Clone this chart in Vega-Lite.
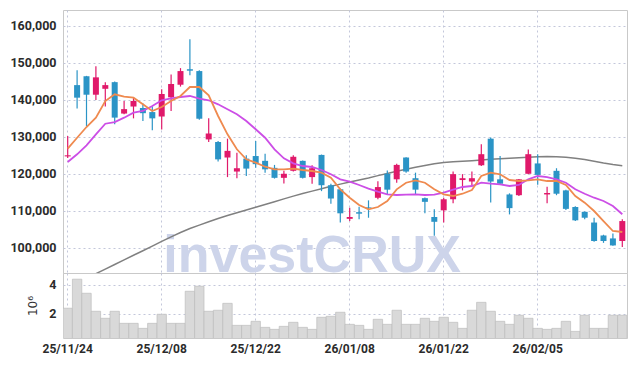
{
"$schema":"https://vega.github.io/schema/vega-lite/v6.json",
"padding":{"left":7,"top":9,"right":9,"bottom":5},
"spacing":0,
"bounds":"flush",
"config":{
 "view":{"stroke":"#c9c9c9","strokeWidth":1},
 "axis":{"domain":false,"ticks":false,"gridColor":"#c3c7da","gridDash":[2,3],"gridWidth":1,"labelFont":"Roboto","labelFontSize":12.5,"labelFontWeight":"bold","labelColor":"#2b2b2b","titleFont":"DejaVu Sans","titleFontWeight":"normal","titleColor":"#333333"}
},
"datasets":{"p":[
{"d":"25/11/24","o":124700,"h":130200,"l":124300,"c":125000,"v":2380000,"m5":126790,"m10":123180,"m60":89200},
{"d":"25/11/25","o":144000,"h":148000,"l":137700,"c":140600,"v":4400000,"m5":129760,"m10":125270,"m60":90450},
{"d":"25/11/26","o":146400,"h":146500,"l":132900,"c":141400,"v":3420000,"m5":132660,"m10":127710,"m60":91700},
{"d":"25/11/27","o":141400,"h":149100,"l":140000,"c":146100,"v":2170000,"m5":135180,"m10":130680,"m60":92950},
{"d":"25/11/28","o":143000,"h":144800,"l":138200,"c":144000,"v":1680000,"m5":139700,"m10":133550,"m60":94200},
{"d":"25/12/01","o":144800,"h":145000,"l":133400,"c":135200,"v":2170000,"m5":141510,"m10":134010,"m60":95450},
{"d":"25/12/02","o":136300,"h":139700,"l":136100,"c":137500,"v":1330000,"m5":140860,"m10":135180,"m60":96700},
{"d":"25/12/03","o":138200,"h":140600,"l":135000,"c":139700,"v":1330000,"m5":140590,"m10":136530,"m60":97950},
{"d":"25/12/04","o":137800,"h":139000,"l":134300,"c":136400,"v":980000,"m5":138800,"m10":136990,"m60":99150},
{"d":"25/12/05","o":136700,"h":138300,"l":131800,"c":135000,"v":1330000,"m5":136990,"m10":138340,"m60":100400},
{"d":"25/12/08","o":135500,"h":142900,"l":132000,"c":141600,"v":1960000,"m5":138070,"m10":139890,"m60":101700},
{"d":"25/12/09","o":140700,"h":146900,"l":137000,"c":144300,"v":1330000,"m5":139700,"m10":140430,"m60":102900},
{"d":"25/12/10","o":144100,"h":148600,"l":143600,"c":147800,"v":1330000,"m5":141050,"m10":140780,"m60":104100},
{"d":"25/12/11","o":148300,"h":156400,"l":146700,"c":147900,"v":3560000,"m5":143490,"m10":141050,"m60":105200},
{"d":"25/12/12","o":147800,"h":148000,"l":134600,"c":134900,"v":3910000,"m5":143490,"m10":140320,"m60":106100},
{"d":"25/12/15","o":129300,"h":135000,"l":128600,"c":130900,"v":2170000,"m5":141240,"m10":139890,"m60":107000},
{"d":"25/12/16","o":128600,"h":128900,"l":123300,"c":123900,"v":2240000,"m5":135640,"m10":138800,"m60":107900},
{"d":"25/12/17","o":124400,"h":129500,"l":119100,"c":126200,"v":2720000,"m5":130680,"m10":137450,"m60":108700},
{"d":"25/12/18","o":120600,"h":125700,"l":118800,"c":121500,"v":1190000,"m5":126620,"m10":136100,"m60":109450},
{"d":"25/12/19","o":124100,"h":125000,"l":119400,"c":121400,"v":1190000,"m5":123920,"m10":134280,"m60":110200},
{"d":"25/12/22","o":124800,"h":128900,"l":121600,"c":122600,"v":1470000,"m5":123000,"m10":132040,"m60":110950},
{"d":"25/12/23","o":123500,"h":125400,"l":120300,"c":121200,"v":1050000,"m5":121910,"m10":129760,"m60":111700},
{"d":"25/12/24","o":121600,"h":122400,"l":118700,"c":118900,"v":910000,"m5":121210,"m10":126620,"m60":112450},
{"d":"25/12/26","o":118900,"h":120800,"l":117400,"c":120000,"v":1120000,"m5":121210,"m10":124190,"m60":113200},
{"d":"25/12/29","o":120800,"h":125000,"l":120600,"c":124600,"v":1400000,"m5":121370,"m10":122830,"m60":113950},
{"d":"25/12/30","o":123500,"h":123600,"l":118700,"c":118900,"v":1050000,"m5":121020,"m10":122100,"m60":114650},
{"d":"26/01/02","o":119100,"h":122300,"l":117300,"c":121500,"v":910000,"m5":120750,"m10":121830,"m60":115300},
{"d":"26/01/05","o":125100,"h":125200,"l":115300,"c":116900,"v":1750000,"m5":120290,"m10":121020,"m60":115950},
{"d":"26/01/06","o":116900,"h":117300,"l":111900,"c":113300,"v":1820000,"m5":118930,"m10":119860,"m60":116600},
{"d":"26/01/07","o":115800,"h":116000,"l":106800,"c":109300,"v":2100000,"m5":115790,"m10":118500,"m60":117200},
{"d":"26/01/08","o":107800,"h":110800,"l":107200,"c":108300,"v":1260000,"m5":113520,"m10":117850,"m60":117750},
{"d":"26/01/09","o":109600,"h":111100,"l":107700,"c":109200,"v":1190000,"m5":111540,"m10":116960,"m60":118300},
{"d":"26/01/12","o":110900,"h":112800,"l":108100,"c":110700,"v":910000,"m5":110380,"m10":115960,"m60":118850},
{"d":"26/01/13","o":113500,"h":118000,"l":113100,"c":116400,"v":1610000,"m5":111000,"m10":115150,"m60":119500},
{"d":"26/01/14","o":120000,"h":120900,"l":114400,"c":115700,"v":1260000,"m5":112630,"m10":114440,"m60":120100},
{"d":"26/01/15","o":118500,"h":122700,"l":117600,"c":122400,"v":2240000,"m5":115790,"m10":114250,"m60":120700},
{"d":"26/01/16","o":124400,"h":124500,"l":120300,"c":120600,"v":1260000,"m5":117580,"m10":114330,"m60":121200},
{"d":"26/01/19","o":118800,"h":120300,"l":114400,"c":115700,"v":1260000,"m5":118230,"m10":114440,"m60":121750},
{"d":"26/01/20","o":113400,"h":113600,"l":109300,"c":112400,"v":1680000,"m5":117580,"m10":114250,"m60":122250},
{"d":"26/01/21","o":108300,"h":110400,"l":103200,"c":107000,"v":1470000,"m5":115790,"m10":114330,"m60":122700},
{"d":"26/01/22","o":110100,"h":113500,"l":106800,"c":113100,"v":1750000,"m5":114440,"m10":114870,"m60":123050},
{"d":"26/01/23","o":113100,"h":120600,"l":112000,"c":119900,"v":1400000,"m5":113980,"m10":115690,"m60":123250},
{"d":"26/01/26","o":118300,"h":119900,"l":115500,"c":118800,"v":980000,"m5":114600,"m10":116420,"m60":123400},
{"d":"26/01/27","o":117900,"h":120600,"l":116900,"c":118800,"v":2240000,"m5":115610,"m10":116690,"m60":123550},
{"d":"26/01/28","o":122300,"h":128000,"l":122100,"c":125300,"v":2790000,"m5":119400,"m10":117580,"m60":123750},
{"d":"26/01/29","o":129500,"h":129800,"l":112200,"c":117900,"v":2170000,"m5":120290,"m10":117310,"m60":123900},
{"d":"26/01/30","o":118500,"h":124800,"l":117200,"c":117300,"v":1470000,"m5":119860,"m10":117150,"m60":124050},
{"d":"26/02/02","o":114400,"h":114700,"l":109000,"c":110700,"v":1260000,"m5":118310,"m10":116690,"m60":124200},
{"d":"26/02/03","o":114200,"h":118600,"l":114000,"c":118500,"v":1890000,"m5":118040,"m10":116960,"m60":124350},
{"d":"26/02/04","o":120000,"h":126600,"l":119900,"c":125300,"v":1680000,"m5":118230,"m10":118500,"m60":124500},
{"d":"26/02/05","o":122800,"h":125300,"l":117000,"c":119700,"v":980000,"m5":118500,"m10":119400,"m60":124600},
{"d":"26/02/06","o":114400,"h":116500,"l":112000,"c":114800,"v":910000,"m5":118040,"m10":119120,"m60":124650},
{"d":"26/02/09","o":120800,"h":121500,"l":114200,"c":114600,"v":980000,"m5":118040,"m10":118500,"m60":124600},
{"d":"26/02/10","o":115500,"h":115700,"l":110200,"c":110500,"v":1470000,"m5":116960,"m10":117580,"m60":124450},
{"d":"26/02/11","o":111000,"h":111200,"l":107200,"c":107400,"v":770000,"m5":113980,"m10":115790,"m60":124200},
{"d":"26/02/12","o":109700,"h":109800,"l":107700,"c":108100,"v":1890000,"m5":112170,"m10":114600,"m60":123850},
{"d":"26/02/13","o":106800,"h":108100,"l":101600,"c":101800,"v":980000,"m5":109920,"m10":113520,"m60":123400},
{"d":"26/02/19","o":103300,"h":103500,"l":101300,"c":101800,"v":980000,"m5":107210,"m10":112630,"m60":122900},
{"d":"26/02/20","o":102500,"h":103800,"l":100500,"c":100600,"v":1890000,"m5":104510,"m10":111270,"m60":122500},
{"d":"26/02/23","o":101800,"h":107700,"l":100200,"c":107200,"v":1890000,"m5":104240,"m10":109030,"m60":122200}
]},
"vconcat":[
 {"width":564,"height":263,
  "data":{"name":"p"},
  "encoding":{"x":{"field":"d","type":"ordinal","sort":null,
    "scale":{"type":"band","paddingInner":0,"paddingOuter":0,"domain":["25/11/24","25/11/25","25/11/26","25/11/27","25/11/28","25/12/01","25/12/02","25/12/03","25/12/04","25/12/05","25/12/08","25/12/09","25/12/10","25/12/11","25/12/12","25/12/15","25/12/16","25/12/17","25/12/18","25/12/19","25/12/22","25/12/23","25/12/24","25/12/26","25/12/29","25/12/30","26/01/02","26/01/05","26/01/06","26/01/07","26/01/08","26/01/09","26/01/12","26/01/13","26/01/14","26/01/15","26/01/16","26/01/19","26/01/20","26/01/21","26/01/22","26/01/23","26/01/26","26/01/27","26/01/28","26/01/29","26/01/30","26/02/02","26/02/03","26/02/04","26/02/05","26/02/06","26/02/09","26/02/10","26/02/11","26/02/12","26/02/13","26/02/19","26/02/20","26/02/23"]},
    "axis":{"values":["25/11/24","25/12/08","25/12/22","26/01/08","26/01/22","26/02/05"],"labels":false,"title":null,"grid":true,"minExtent":0,"maxExtent":0}}},
  "layer":[
   {"data":{"values":[{"d":"26/01/02","p":93500,"t":"investCRUX"}]},
    "mark":{"type":"text","font":"Liberation Sans","fontWeight":"bold","fontSize":52,"color":"#cdd4ea","baseline":"alphabetic","align":"center","clip":true},
    "encoding":{"y":{"field":"p","type":"quantitative","scale":{"domain":[93140,164330],"zero":false,"nice":false},
      "axis":{"values":[100000,110000,120000,130000,140000,150000,160000],"format":",d","title":null,"labelPadding":7,"minExtent":55,"maxExtent":55}},
     "text":{"field":"t"}}},
   {"mark":{"type":"line","color":"#808080","strokeWidth":1.5,"clip":true},
    "encoding":{"y":{"field":"m60","type":"quantitative","title":null}}},
   {"mark":{"type":"rule","strokeWidth":1.2,"clip":true},
    "encoding":{"y":{"field":"l","type":"quantitative","title":null},"y2":{"field":"h"},
     "color":{"condition":{"test":"datum.c >= datum.o","value":"#e0196a"},"value":"#2b94c6"}}},
   {"mark":{"type":"bar","size":6,"clip":true},
    "encoding":{"y":{"field":"o","type":"quantitative","title":null},"y2":{"field":"c"},
     "color":{"condition":{"test":"datum.c >= datum.o","value":"#e0196a"},"value":"#2b94c6"}}},
   {"mark":{"type":"line","color":"#cc4ee6","strokeWidth":1.8,"clip":true},
    "encoding":{"y":{"field":"m10","type":"quantitative","title":null}}},
   {"mark":{"type":"line","color":"#ef8a4f","strokeWidth":1.8,"clip":true},
    "encoding":{"y":{"field":"m5","type":"quantitative","title":null}}}
  ]
 },
 {"width":564,"height":65,
  "data":{"name":"p"},
  "mark":{"type":"bar","fill":"#d9d9d9","stroke":"#bdbdbd","strokeWidth":0.7,"clip":true},
  "encoding":{
   "x":{"field":"d","type":"ordinal","sort":null,
    "scale":{"type":"band","paddingInner":0,"paddingOuter":0,"domain":["25/11/24","25/11/25","25/11/26","25/11/27","25/11/28","25/12/01","25/12/02","25/12/03","25/12/04","25/12/05","25/12/08","25/12/09","25/12/10","25/12/11","25/12/12","25/12/15","25/12/16","25/12/17","25/12/18","25/12/19","25/12/22","25/12/23","25/12/24","25/12/26","25/12/29","25/12/30","26/01/02","26/01/05","26/01/06","26/01/07","26/01/08","26/01/09","26/01/12","26/01/13","26/01/14","26/01/15","26/01/16","26/01/19","26/01/20","26/01/21","26/01/22","26/01/23","26/01/26","26/01/27","26/01/28","26/01/29","26/01/30","26/02/02","26/02/03","26/02/04","26/02/05","26/02/06","26/02/09","26/02/10","26/02/11","26/02/12","26/02/13","26/02/19","26/02/20","26/02/23"]},
    "axis":{"values":["25/11/24","25/12/08","25/12/22","26/01/08","26/01/22","26/02/05"],"title":null,"grid":true,"labelAngle":0,"labelPadding":5,"labelFontSize":12}},
   "y":{"field":"v","type":"quantitative","scale":{"domain":[310000,4830000],"zero":false,"nice":false},
    "axis":{"values":[2000000,4000000],"labelExpr":"datum.value/1000000","title":"10⁶","titleFontSize":12,"titlePadding":10,"labelPadding":7,"minExtent":14,"maxExtent":14}}
  }
 }
]
}
